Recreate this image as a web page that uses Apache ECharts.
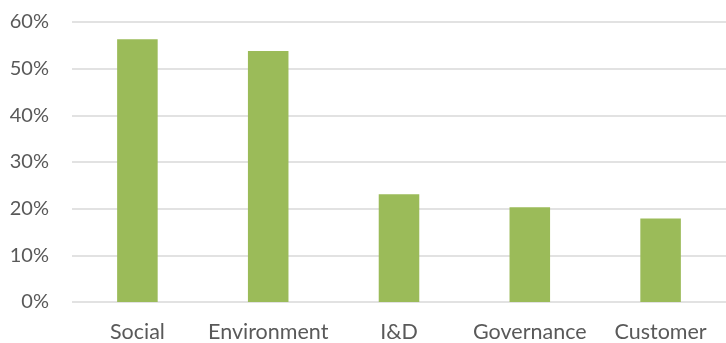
<!DOCTYPE html>
<html>
<head>
<meta charset="utf-8">
<script src="https://cdn.jsdelivr.net/npm/echarts@6/dist/echarts.min.js"></script>
<style>
  html, body { margin: 0; padding: 0; background: #fff; }
  #main { width: 726px; height: 343px; }
</style>
</head>
<body>
<div id="main"></div>
<script>
var categories = ['Social', 'Environment', 'I&D', 'Governance', 'Customer'];
var shares = [56.3, 53.8, 23.1, 20.3, 17.9];
var tickMax = 60;
var tickStep = 10;

var myChart = echarts.init(document.getElementById('main'));
var option = {
  animation: false,
  textStyle: { fontFamily: 'Lato' },
  grid: {
    left: 72,
    width: 658,
    top: 22,
    height: 281,
    containLabel: false
  },
  xAxis: {
    type: 'category',
    data: categories,
    axisLine: { show: false },
    axisTick: { show: false },
    axisLabel: {
      color: '#595959',
      fontSize: 21.5,
      margin: 19,
      interval: 0
    }
  },
  yAxis: {
    type: 'value',
    min: 0,
    max: tickMax,
    interval: tickStep,
    axisLine: { show: false },
    axisTick: { show: false },
    axisLabel: {
      color: '#595959',
      fontSize: 20,
      margin: 23,
      formatter: '{value}%'
    },
    splitLine: {
      lineStyle: { color: '#d9d9d9', width: 1.5 }
    }
  },
  series: [
    {
      type: 'bar',
      data: shares,
      barWidth: '31%',
      itemStyle: { color: '#9bbb59' }
    }
  ]
};
myChart.setOption(option);
</script>
</body>
</html>
